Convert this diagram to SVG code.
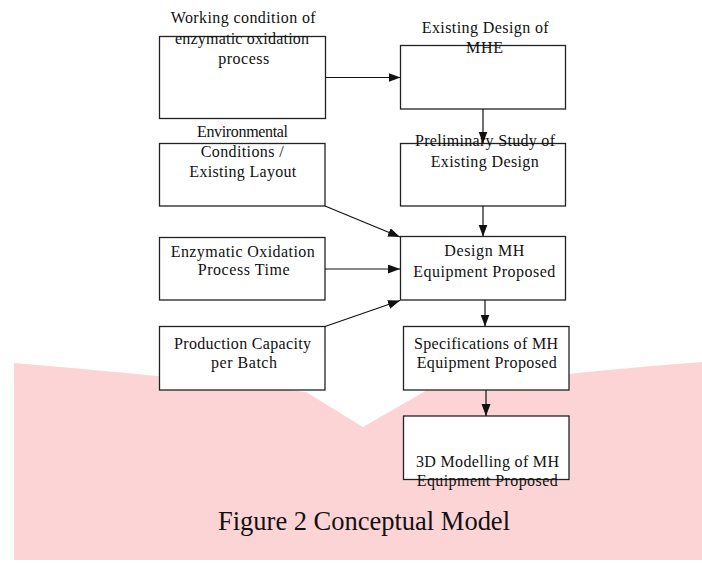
<svg xmlns="http://www.w3.org/2000/svg" width="702" height="563" viewBox="0 0 702 563">
<style>
.box{fill:#fff;stroke:#222;stroke-width:1.3}
.t{font-family:"Liberation Serif","Times New Roman",serif;font-size:16px;fill:#111}
.cap{font-family:"Liberation Serif","Times New Roman",serif;font-size:26.5px;fill:#111}
.c{stroke:#111;stroke-width:1.2;fill:none;marker-end:url(#ah)}
</style>
<defs>
<marker id="ah" markerUnits="userSpaceOnUse" markerWidth="13" markerHeight="10" refX="12" refY="4.5" orient="auto">
<path d="M0,0 L12,4.5 L0,9 Z" fill="#111"/>
</marker>
</defs>
<rect width="702" height="563" fill="#fff"/>
<path id="watermark" d="M14,363 Q170,376 306,392 L363,427 L427,390 Q570,372 702,362 L702,560 L14,560 Z" fill="#fdd4d6"/>

<g id="n1"><rect class="box" x="159.5" y="36.5" width="166" height="82"/>
<text class="t" x="170.7" y="23" textLength="145">Working condition of</text>
<text class="t" x="175" y="44" textLength="134">enzymatic oxidation</text>
<text class="t" x="218.3" y="64" textLength="51">process</text></g>

<g id="n2"><rect class="box" x="400.5" y="45.5" width="165" height="63.5"/>
<text class="t" x="421.7" y="32.7" textLength="127">Existing Design of</text>
<text class="t" x="466" y="53.3" textLength="37">MHE</text></g>

<g id="n3"><rect class="box" x="400.5" y="143.5" width="165" height="62.5"/>
<text class="t" x="415" y="146" textLength="140">Preliminary Study of</text>
<text class="t" x="430.7" y="166.7" textLength="108">Existing Design</text></g>

<g id="n4"><rect class="box" x="400.5" y="236.5" width="165" height="63.5"/>
<text class="t" x="444.3" y="256" textLength="80">Design MH</text>
<text class="t" x="413.3" y="276.7" textLength="142">Equipment Proposed</text></g>

<g id="n5"><rect class="box" x="159.5" y="143.5" width="165.5" height="62.5"/>
<text class="t" x="197" y="136.7" textLength="91">Environmental</text>
<text class="t" x="200.7" y="157.3" textLength="83">Conditions /</text>
<text class="t" x="189.3" y="177.3" textLength="107">Existing Layout</text></g>

<g id="n6"><rect class="box" x="159.5" y="237.5" width="165.5" height="62.5"/>
<text class="t" x="170.7" y="256.7" textLength="144">Enzymatic Oxidation</text>
<text class="t" x="197.7" y="275" textLength="92">Process Time</text></g>

<g id="n7"><rect class="box" x="159.5" y="326.5" width="165.5" height="63.5"/>
<text class="t" x="174" y="349.3" textLength="137">Production Capacity</text>
<text class="t" x="211" y="368.3" textLength="66">per Batch</text></g>

<g id="n8"><rect class="box" x="403.5" y="326.5" width="165.5" height="63.5"/>
<text class="t" x="414" y="349" textLength="144">Specifications of MH</text>
<text class="t" x="416.7" y="368.3" textLength="140">Equipment Proposed</text></g>

<g id="n9"><rect class="box" x="403.5" y="416" width="165.5" height="63.5"/>
<text class="t" x="416" y="466.7" textLength="143">3D Modelling of MH</text>
<text class="t" x="416.7" y="486" textLength="141">Equipment Proposed</text></g>

<g id="connectors">
<line class="c" x1="325.5" y1="77.5" x2="400.5" y2="77.5"/>
<line class="c" x1="483" y1="109" x2="483" y2="143.5"/>
<line class="c" x1="483" y1="206" x2="483" y2="236.5"/>
<line class="c" x1="325" y1="206" x2="400" y2="237"/>
<line class="c" x1="325" y1="269" x2="400" y2="269"/>
<line class="c" x1="325" y1="326.5" x2="400" y2="300.5"/>
<line class="c" x1="485" y1="300" x2="485" y2="326.5"/>
<line class="c" x1="486" y1="390" x2="486" y2="416"/>
</g>

<text id="caption" class="cap" x="218" y="530" textLength="292">Figure 2 Conceptual Model</text>
</svg>
